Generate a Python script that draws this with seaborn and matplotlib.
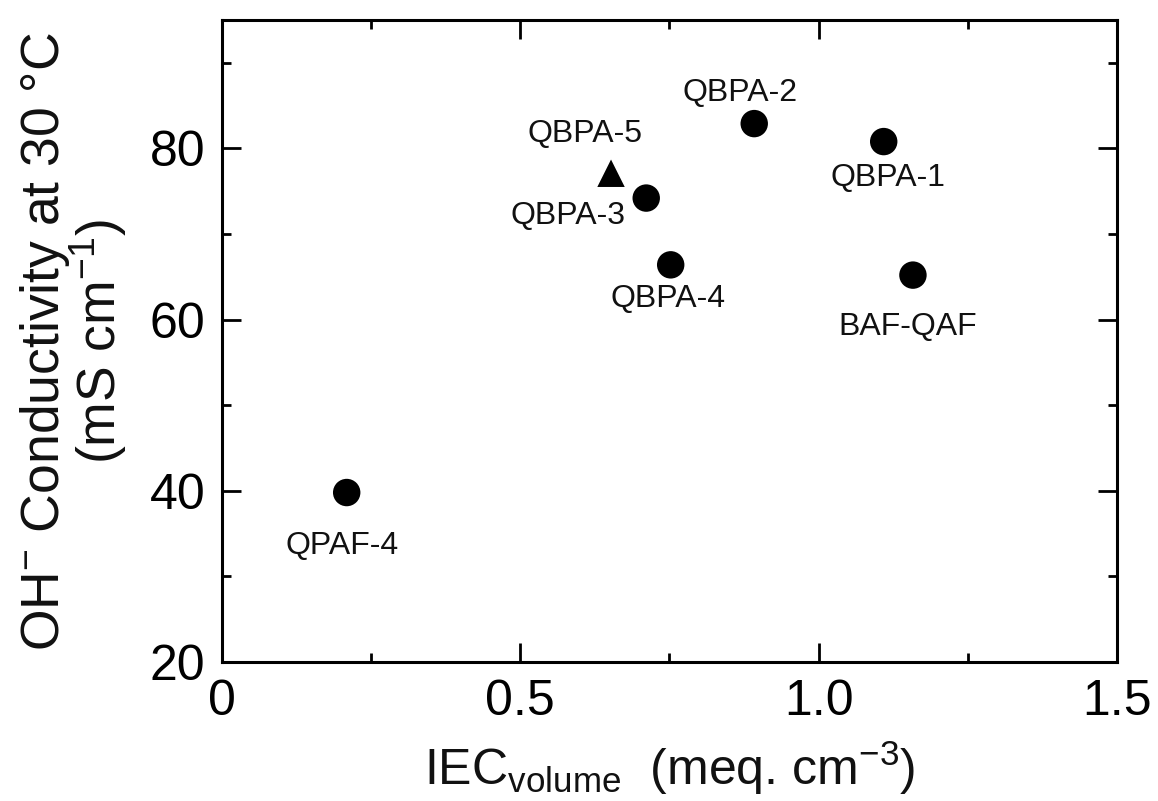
import matplotlib
matplotlib.use("Agg")
import matplotlib.pyplot as plt
import seaborn as sns
import pandas as pd

names = ["QPAF-4", "QBPA-5", "QBPA-3", "QBPA-4", "QBPA-2", "QBPA-1", "BAF-QAF"]
iec_volume = [0.209, 0.652, 0.711, 0.752, 0.892, 1.109, 1.158]
conductivity = [39.8, 77.1, 74.2, 66.4, 82.9, 80.8, 65.2]
marker_kind = ["circle", "triangle", "circle", "circle", "circle", "circle", "circle"]
label_offsets_px = [(-5, -53), (-26, 39), (-78, -18), (-3, -34), (-14, 31), (4, -36), (-5, -52)]

x_ticks = [0, 0.5, 1.0, 1.5]
x_ticklabels = ["0", "0.5", "1.0", "1.5"]
y_ticks = [20, 40, 60, 80]

sns.set_theme(style="white")
plt.rcParams["font.family"] = ["Liberation Sans", "DejaVu Sans"]
plt.rcParams["mathtext.fontset"] = "custom"
plt.rcParams["mathtext.rm"] = "Liberation Sans"
plt.rcParams["mathtext.it"] = "Liberation Sans"
plt.rcParams["mathtext.default"] = "regular"

df = pd.DataFrame({"name": names, "iec": iec_volume, "cond": conductivity, "kind": marker_kind})

fig = plt.figure(figsize=(11.58, 8.01), dpi=100)
ax = fig.add_axes([0.1917, 0.1735, 0.9646 - 0.1917, 0.975 - 0.1735])

sns.scatterplot(data=df, x="iec", y="cond", style="kind",
                markers={"circle": "o", "triangle": "^"},
                color="black", s=390, edgecolor="black", linewidth=0,
                legend=False, ax=ax)

for n, xv, yv, off in zip(names, iec_volume, conductivity, label_offsets_px):
    ax.annotate(n, (xv, yv), xytext=off, textcoords="offset pixels",
                ha="center", va="center", fontsize=23, color="#111111")

ax.set_xlim(0, 1.5)
ax.set_ylim(20, 95)
ax.set_xticks(x_ticks)
ax.set_xticklabels(x_ticklabels)
ax.set_yticks(y_ticks)
ax.set_xticks([0.25, 0.75, 1.25], minor=True)
ax.set_yticks([30, 50, 70, 90], minor=True)

ax.tick_params(which="both", direction="in", top=True, right=True,
               bottom=True, left=True, width=2.0, colors="black")
ax.tick_params(which="major", length=13.5, labelsize=36, pad=12)
ax.tick_params(which="minor", length=6.5)

for sp in ax.spines.values():
    sp.set_linewidth(2.2)
    sp.set_color("black")
    sp.set_visible(True)

ax.set_xlabel(r"IEC$_{\mathrm{volume}}$  (meq. cm$^{-3}$)", fontsize=36,
              labelpad=10, color="#111111")
ax.set_ylabel("OH$^{-}$ Conductivity at 30 °C\n(mS cm$^{-1}$)", fontsize=38.5,
              labelpad=15, linespacing=0.92, color="#111111")

fig.savefig("out.png", dpi=100, facecolor="white")
